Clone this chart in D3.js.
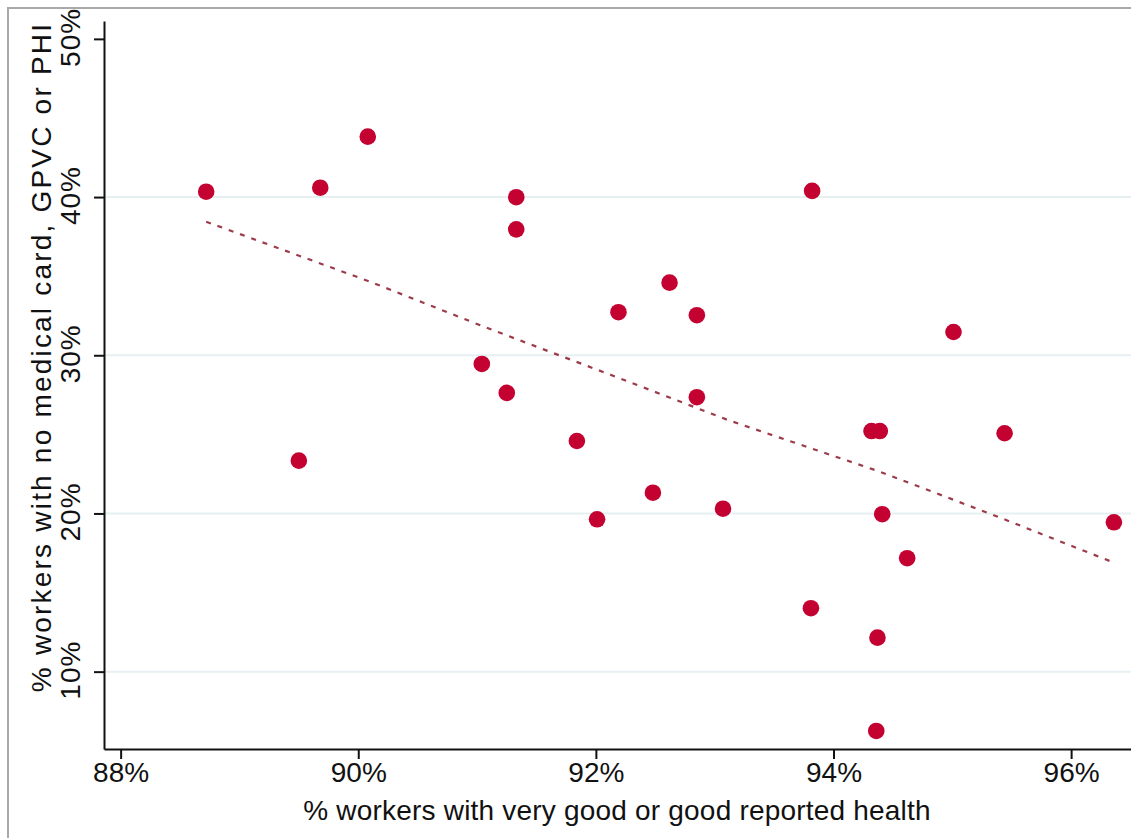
<!DOCTYPE html>
<html><head><meta charset="utf-8">
<script src="https://cdn.jsdelivr.net/npm/d3@7"></script>
<style>
html,body{margin:0;padding:0;background:#fff;}
svg{display:block;}
text{font-family:"Liberation Sans",Arial,sans-serif;fill:#111;}
</style></head>
<body>
<svg id="chart" width="1131" height="838"></svg>
<script>
// Data
const healthPct = [88.72,89.68,90.08,91.33,91.33,89.50,91.04,91.25,91.84,92.19,92.62,92.85,92.85,92.01,92.48,93.07,94.32,94.39,95.44,94.41,96.36,94.62,93.81,94.37,94.36,95.01,93.82];
const noCoverPct = [40.34,40.59,43.82,39.99,37.96,23.34,29.45,27.62,24.58,32.72,34.59,32.53,27.35,19.63,21.31,20.30,25.21,25.21,25.07,19.95,19.44,17.17,14.01,12.15,6.25,31.47,40.39];
const fitX = [88.72,90.10,91.08,92.15,93.11,94.39,95.36,96.34];
const fitY = [38.44,34.65,31.74,28.69,25.91,22.64,19.86,16.95];
const xTicks = [88,90,92,94,96];
const yTicks = [10,20,30,40,50];
const gridTicks = [10,20,30,40];
const xTitle = "% workers with very good or good reported health";
const yTitle = "% workers with no medical card, GPVC or PHI";

const svg = d3.select("#chart");
const x = d3.scaleLinear().domain([87.86, 96.504]).range([104, 1131]);
const y = d3.scaleLinear().domain([5.11, 51.13]).range([749, 21]);

// outer frame
svg.append("rect").attr("x",8).attr("y",8).attr("width",1140).attr("height",850)
  .attr("fill","none").attr("stroke","#a9a9a9").attr("stroke-width",2);

// gridlines
svg.append("g").selectAll("line").data(gridTicks).join("line")
  .attr("x1",105).attr("x2",1131)
  .attr("y1",d=>y(d)).attr("y2",d=>y(d))
  .attr("stroke","#e6eff2").attr("stroke-width",2);

// axes
const fmt = d => d + "%";
const gx = svg.append("g").attr("transform","translate(0,749)")
  .call(d3.axisBottom(x).tickValues(xTicks).tickFormat(fmt).tickSize(10).tickSizeOuter(0));
gx.select(".domain").attr("stroke","#111").attr("stroke-width",2);
gx.selectAll(".tick line").attr("stroke","#111").attr("stroke-width",2);
gx.selectAll(".tick text").attr("font-size",28).attr("y",13).attr("dy","0.71em")
  .attr("font-family","Liberation Sans, Arial, sans-serif").attr("fill","#111");

const gy = svg.append("g").attr("transform","translate(104,0)")
  .call(d3.axisLeft(y).tickValues(yTicks).tickFormat(fmt).tickSize(10).tickSizeOuter(0));
gy.select(".domain").attr("stroke","#111").attr("stroke-width",2);
gy.selectAll(".tick line").attr("stroke","#111").attr("stroke-width",2);
gy.selectAll(".tick text")
  .attr("font-size",28).attr("font-family","Liberation Sans, Arial, sans-serif").attr("fill","#111")
  .attr("x",null).attr("dy",null)
  .attr("text-anchor","middle")
  .attr("letter-spacing",1)
  .attr("transform","translate(-24,-2) rotate(-90)");

// axis titles
svg.append("text").attr("x",617).attr("y",820).attr("text-anchor","middle")
  .attr("font-size",28).attr("letter-spacing",0.2).text(xTitle);
svg.append("text").attr("transform","translate(51,357) rotate(-90)").attr("text-anchor","middle")
  .attr("font-size",28).attr("letter-spacing",2.2).text(yTitle);

// fitted line
const fit = fitX.map((d,i)=>[d,fitY[i]]);
svg.append("path").datum(fit)
  .attr("d", d3.line().x(d=>x(d[0])).y(d=>y(d[1])))
  .attr("fill","none").attr("stroke","#9c3b4a").attr("stroke-width",2.2)
  .attr("stroke-dasharray","5,7");

// points
const pts = healthPct.map((d,i)=>[d,noCoverPct[i]]);
svg.append("g").selectAll("circle").data(pts).join("circle")
  .attr("cx",d=>x(d[0])).attr("cy",d=>y(d[1])).attr("r",8.3)
  .attr("fill","#c40232");
</script>
</body></html>
